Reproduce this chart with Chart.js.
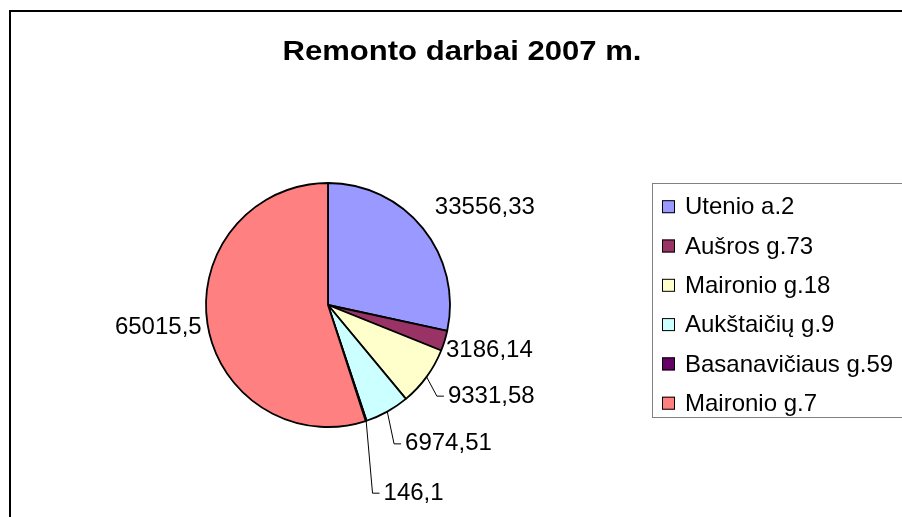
<!DOCTYPE html>
<html>
<head>
<meta charset="utf-8">
<script src="https://cdn.jsdelivr.net/npm/chart.js@4.4.0/dist/chart.umd.min.js"></script>
<style>
  html, body { margin: 0; padding: 0; background: #fff; }
  #wrap { width: 902px; height: 517px; }
</style>
</head>
<body>
<div id="wrap"><canvas id="pie" width="902" height="517"></canvas></div>
<script>
const chartTitle = 'Remonto darbai 2007 m.';
const streets = ['Utenio a.2', 'Aušros g.73', 'Maironio g.18', 'Aukštaičių g.9', 'Basanavičiaus g.59', 'Maironio g.7'];
const costs = [33556.33, 3186.14, 9331.58, 6974.51, 146.1, 65015.5];
const sliceColors = ['#9999FF', '#993366', '#FFFFCC', '#CCFFFF', '#660066', '#FF8080'];

// nudges for the value labels, relative to the default spot just outside each slice
const labelNudge = [[1, -12], [-12, 6], [10, 11], [11, 20], [13, 59], [8, 1]];
const hasLeader = [false, false, true, true, true, false];

const FONT = '"Liberation Sans", Arial, sans-serif';
const fmt = v => String(v).replace('.', ',');

const frame = {
  id: 'frame',
  beforeDraw(chart) {
    const c = chart.ctx;
    c.save();
    c.fillStyle = '#fff';
    c.fillRect(0, 0, chart.width, chart.height);
    c.strokeStyle = '#000';
    c.lineWidth = 2;
    c.strokeRect(10, 11, chart.width + 20, chart.height + 20);
    c.restore();
  }
};

const valueLabels = {
  id: 'valueLabels',
  afterDatasetsDraw(chart) {
    const c = chart.ctx;
    const meta = chart.getDatasetMeta(0);
    c.save();
    c.font = '24px ' + FONT;
    c.fillStyle = '#000';
    c.strokeStyle = '#000';
    c.lineWidth = 1;
    c.textBaseline = 'middle';
    meta.data.forEach((arc, i) => {
      const p = arc.getProps(['x', 'y', 'startAngle', 'endAngle', 'outerRadius'], true);
      const mid = (p.startAngle + p.endAngle) / 2;
      const dx = Math.cos(mid), dy = Math.sin(mid);
      const out = p.outerRadius + 14;
      const tx = p.x + out * dx + labelNudge[i][0];
      const ty = p.y + out * dy + labelNudge[i][1];
      c.textAlign = dx >= 0 ? 'left' : 'right';
      c.fillText(fmt(costs[i]), tx, ty);
      if (hasLeader[i]) {
        c.beginPath();
        c.moveTo(p.x + p.outerRadius * dx, p.y + p.outerRadius * dy);
        c.lineTo(tx - 11, ty);
        c.lineTo(tx - 4, ty);
        c.stroke();
      }
    });
    c.restore();
  }
};

const boxLegend = {
  id: 'boxLegend',
  afterDraw(chart) {
    const c = chart.ctx;
    const left = 652, top = 183, h = 234, row = 39.3;
    c.save();
    c.strokeStyle = '#808080';
    c.lineWidth = 1;
    c.strokeRect(left + 0.5, top + 0.5, 400, h);
    c.font = '24px ' + FONT;
    c.textBaseline = 'middle';
    c.textAlign = 'left';
    streets.forEach((s, i) => {
      const cy = top + 23.7 + i * row;
      c.fillStyle = sliceColors[i];
      c.fillRect(662, cy - 6.5, 13, 13);
      c.strokeStyle = '#000';
      c.strokeRect(662.5, cy - 6, 12, 12);
      c.fillStyle = '#000';
      c.fillText(s, 685, cy + 1);
    });
    c.restore();
  }
};

const wideTitle = {
  id: 'wideTitle',
  afterDraw(chart) {
    const c = chart.ctx;
    c.save();
    c.translate(462, 60);
    c.scale(1.15, 1);
    c.font = 'bold 27px ' + FONT;
    c.fillStyle = '#000';
    c.textAlign = 'center';
    c.textBaseline = 'alphabetic';
    c.fillText(chartTitle, 0, 0);
    c.restore();
  }
};

new Chart(document.getElementById('pie').getContext('2d'), {
  type: 'pie',
  data: {
    labels: streets,
    datasets: [{
      data: costs,
      backgroundColor: sliceColors,
      borderColor: '#000',
      borderWidth: 1.8
    }]
  },
  options: {
    responsive: false,
    animation: false,
    radius: 122,
    layout: { padding: { left: 0, right: 246, top: 93, bottom: 0 } },
    plugins: {
      legend: { display: false },
      title: { display: false },
      tooltip: { enabled: false }
    }
  },
  plugins: [frame, valueLabels, boxLegend, wideTitle]
});
</script>
</body>
</html>
